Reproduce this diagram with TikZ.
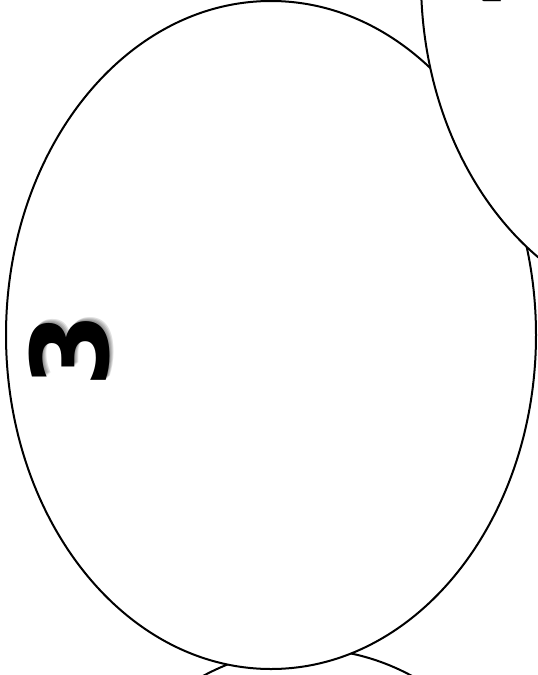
\documentclass[tikz,border=0pt]{standalone}
\usepackage{fontspec}
\setmainfont{DejaVu Sans}
\usetikzlibrary{shapes.geometric}
\begin{document}
\begin{tikzpicture}[x=1pt,y=-1pt,
  lobe/.style={draw,ellipse,line width=2pt,fill=white,minimum width=530pt,minimum height=668pt,inner sep=0pt},
  num/.style={font=\fontsize{107}{107}\selectfont\bfseries,rotate=90,inner sep=0pt},
  numshade/.style={num,text=black,text opacity=0.12}]
\useasboundingbox (0,0) rectangle (538,675);
\clip (0,0) rectangle (538,675);
% lobes, back to front
\node[lobe] (lobe5) at (307.5,983) {};
\node[lobe] (lobe3) at (271,335) {};
\foreach \d in {1,2,3,4} \node[numshade] at (70+\d,350-\d) {3};
\node[num] (num3) at (70,350) {3};
\node[lobe] (lobe4) at (686,-20) {};
\foreach \d in {1,2,3,4} \node[numshade] at (476+\d,-31-\d) {4};
\node[num] (num4) at (476,-31) {4};
\end{tikzpicture}
\end{document}
